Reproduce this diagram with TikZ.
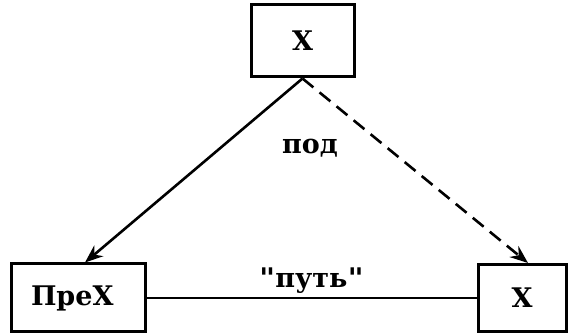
\documentclass[tikz,border=0pt]{standalone}
\usepackage{fontspec}
\setmainfont{DejaVu Serif}
\newfontfamily\quotefont{DejaVu Sans Mono}
\usetikzlibrary{arrows.meta}

\tikzset{
  lbl/.style={font=\fontsize{27}{27}\selectfont\bfseries},
  block/.style={draw, line width=3pt, lbl},
  link/.style={line width=2.6pt},
  tip/.style={-{Stealth[length=18pt,width=14pt]}},
}
\newcommand{\qmark}{{\quotefont\char34}}

\begin{document}
\begin{tikzpicture}[x=1pt, y=1pt]
    \useasboundingbox (0,0) rectangle (571,334);
    \node[block, minimum width=103pt, minimum height=72pt] (top)   at (302.5, 293) {X};
    \node[block, minimum height=68pt, inner xsep=20pt, text width=94pt, align=left] (left) at (78, 36) {ПреХ};
    \node[block, minimum width=88pt,  minimum height=67pt] (right) at (522, 36) {X};
    \draw[link, tip] (top.south) -- ([xshift=7pt]left.north);
    \draw[link, tip, dash pattern=on 14pt off 8pt] (top.south) -- ([xshift=6pt]right.north);
    \draw[link] (left.east) -- node[above, lbl] {\qmark путь\qmark} (right.west);
    \node[lbl] (sub) at (310, 186) {под};
  \end{tikzpicture}
\end{document}
